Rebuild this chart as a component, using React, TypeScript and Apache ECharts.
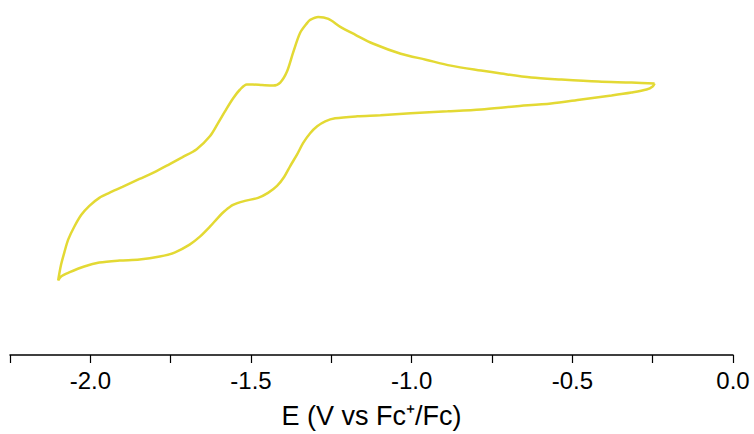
import React, { useEffect, useRef } from "react";
import * as echarts from "echarts";

// Cyclic voltammogram: potential E (V vs Fc+/Fc), current I (arbitrary units)
const forwardScan: [number, number][] = [
  [-0.244, 11.6], [-0.316, 11.7], [-0.419, 11.8], [-0.534, 12.0], [-0.628, 12.2],
  [-0.722, 12.6], [-0.784, 12.9], [-0.878, 13.4], [-0.956, 14.0], [-1.034, 14.6],
  [-1.119, 15.6], [-1.175, 16.5], [-1.222, 17.3], [-1.259, 18.1], [-1.291, 18.3],
  [-1.316, 18.0], [-1.325, 17.7], [-1.347, 16.7], [-1.369, 14.7], [-1.388, 12.8],
  [-1.409, 11.7], [-1.431, 11.4], [-1.466, 11.45], [-1.494, 11.5], [-1.513, 11.5],
  [-1.534, 11.0], [-1.556, 10.1], [-1.581, 8.8], [-1.603, 7.6], [-1.628, 6.3],
  [-1.669, 5.0], [-1.713, 4.2], [-1.753, 3.5], [-1.794, 2.8], [-1.847, 2.0],
  [-1.9, 1.2], [-1.941, 0.6], [-1.972, 0.1], [-2.003, -0.7], [-2.028, -1.6],
  [-2.05, -2.8], [-2.069, -4.1], [-2.081, -5.4], [-2.091, -6.6], [-2.097, -7.6],
  [-2.1, -8.2],
];

const reverseScan: [number, number][] = [
  [-2.091, -7.8], [-2.066, -7.4], [-2.019, -6.8], [-1.972, -6.4], [-1.909, -6.2],
  [-1.847, -6.1], [-1.784, -5.8], [-1.738, -5.4], [-1.691, -4.6], [-1.659, -3.8],
  [-1.628, -2.8], [-1.603, -1.9], [-1.581, -1.2], [-1.556, -0.6], [-1.519, -0.2],
  [-1.478, 0.1], [-1.447, 0.6], [-1.419, 1.3], [-1.397, 2.2], [-1.378, 3.3],
  [-1.356, 4.5], [-1.338, 5.6], [-1.316, 6.6], [-1.294, 7.3], [-1.269, 7.8],
  [-1.238, 8.1], [-1.169, 8.3], [-1.097, 8.4], [-1.003, 8.6], [-0.888, 8.8],
  [-0.784, 9.0], [-0.681, 9.3], [-0.566, 9.6], [-0.472, 10.0], [-0.378, 10.4],
  [-0.316, 10.7], [-0.269, 11.0], [-0.25, 11.3], [-0.244, 11.6],
];

const xTickLabels = ["-2.0", "-1.5", "-1.0", "-0.5", "0.0"];

export default function App() {
  const ref = useRef<HTMLDivElement>(null);
  useEffect(() => {
    if (!ref.current) return;
    const chart = echarts.init(ref.current, null, { renderer: "svg" });
    const data = [...forwardScan, ...reverseScan];
    chart.setOption({
      animation: false,
      grid: { left: 10, right: 21, top: 0, bottom: 77, containLabel: false },
      xAxis: {
        type: "value",
        min: -2.25,
        max: 0,
        interval: 0.25,
        name: "E (V vs Fc\u207A/Fc)",
        nameLocation: "middle",
        nameGap: 47,
        nameTextStyle: { fontFamily: "Liberation Sans, Arial", fontSize: 27, color: "#000" },
        axisLine: { onZero: false, lineStyle: { color: "#000", width: 1.5 } },
        axisTick: { show: true, length: 8, lineStyle: { color: "#000", width: 1.2 } },
        axisLabel: {
          fontFamily: "Liberation Sans, Arial",
          fontSize: 24,
          color: "#000",
          margin: 13,
          showMinLabel: true,
          showMaxLabel: true,
          formatter: (v: number) => {
            const s = v.toFixed(1);
            return xTickLabels.includes(s) && Math.abs(v * 2 - Math.round(v * 2)) < 1e-6 ? s : "";
          },
        },
        splitLine: { show: false },
      },
      yAxis: {
        type: "value",
        min: -15.7,
        max: 20,
        show: false,
        splitLine: { show: false },
      },
      series: [
        {
          type: "line",
          data,
          showSymbol: false,
          smooth: 0.3,
          lineStyle: { color: "#E3D934", width: 2.5 },
        },
      ],
    });
    return () => chart.dispose();
  }, []);
  return (
    <div
      ref={ref}
      style={{ position: "fixed", left: 0, top: 0, width: 754, height: 434, background: "#fff" }}
    />
  );
}
